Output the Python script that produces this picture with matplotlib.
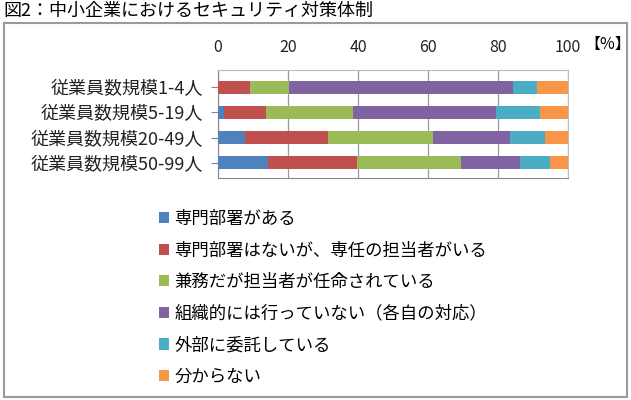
import numpy as np
import matplotlib
matplotlib.use("Agg")
import matplotlib.pyplot as plt
import matplotlib.patches as mpatches

plt.rcParams['font.family'] = ['Noto Sans CJK JP', 'DejaVu Sans']

# data (% share)
categories = ["従業員数規模1-4人", "従業員数規模5-19人",
              "従業員数規模20-49人", "従業員数規模50-99人"]
series = ["専門部署がある",
          "専門部署はないが、専任の担当者がいる",
          "兼務だが担当者が任命されている",
          "組織的には行っていない（各自の対応）",
          "外部に委託している",
          "分からない"]
s_dept = [0.0, 1.6, 7.6, 14.2]
s_dedicated = [9.0, 12.2, 23.7, 25.5]
s_concurrent = [11.2, 24.9, 30.1, 29.6]
s_none = [64.1, 40.8, 21.9, 16.9]
s_outsource = [6.9, 12.6, 10.0, 8.6]
s_unknown = [8.8, 7.9, 6.7, 5.2]
values = [s_dept, s_dedicated, s_concurrent, s_none, s_outsource, s_unknown]
colors = ["#4F81BD", "#C0504D", "#9BBB59", "#8064A2", "#4BACC6", "#F79646"]
xticks = [0, 20, 40, 60, 80, 100]

fig = plt.figure(figsize=(6.31, 4.0), dpi=100)

# outer frame of the chart
fig.patches.append(mpatches.Rectangle((4/631, 3/400), 623/631, 374/400,
                                      transform=fig.transFigure, fill=False,
                                      edgecolor="#9a9a9a", linewidth=1.5))
fig.text(3/631, 1 - 11/400, "図2：中小企業におけるセキュリティ対策体制",
         fontsize=13, va="center", ha="left")

ax = fig.add_axes([218/631, 1 - 178/400, 350/631, 108/400])
y = np.arange(len(categories))
left = np.zeros(len(categories))
for vals, col, name in zip(values, colors, series):
    ax.barh(y, vals, left=left, height=0.52, color=col, label=name,
            edgecolor="none", zorder=3)
    left = left + np.array(vals)

ax.set_xlim(0, 100)
ax.set_ylim(3.6, -0.68)
ax.set_xticks(xticks)
ax.xaxis.tick_top()
ax.tick_params(axis="x", length=0, labelsize=11.5, pad=10, colors="#222222")
ax.set_yticks(y)
ax.set_yticklabels(categories, fontsize=13, color="#222222")
ax.tick_params(axis="y", length=5, color="#888888", pad=6)
ax.grid(axis="x", color="#9a9a9a", linewidth=0.9, zorder=0)
for side in ["top", "right"]:
    ax.spines[side].set_color("#bbbbbb")
for side in ["left", "bottom"]:
    ax.spines[side].set_color("#888888")
fig.text(584/631, 1 - 44/400, "【%】", fontsize=11.5, va="center", ha="left")

handles, labels = ax.get_legend_handles_labels()
fig.legend(handles, labels, loc="upper left",
           bbox_to_anchor=(152/631, 1 - 203/400), frameon=False,
           fontsize=12.5, handlelength=0.6, handleheight=0.6,
           handletextpad=0.3, labelspacing=0.78, borderaxespad=0)

fig.savefig("out.png", dpi=100)
